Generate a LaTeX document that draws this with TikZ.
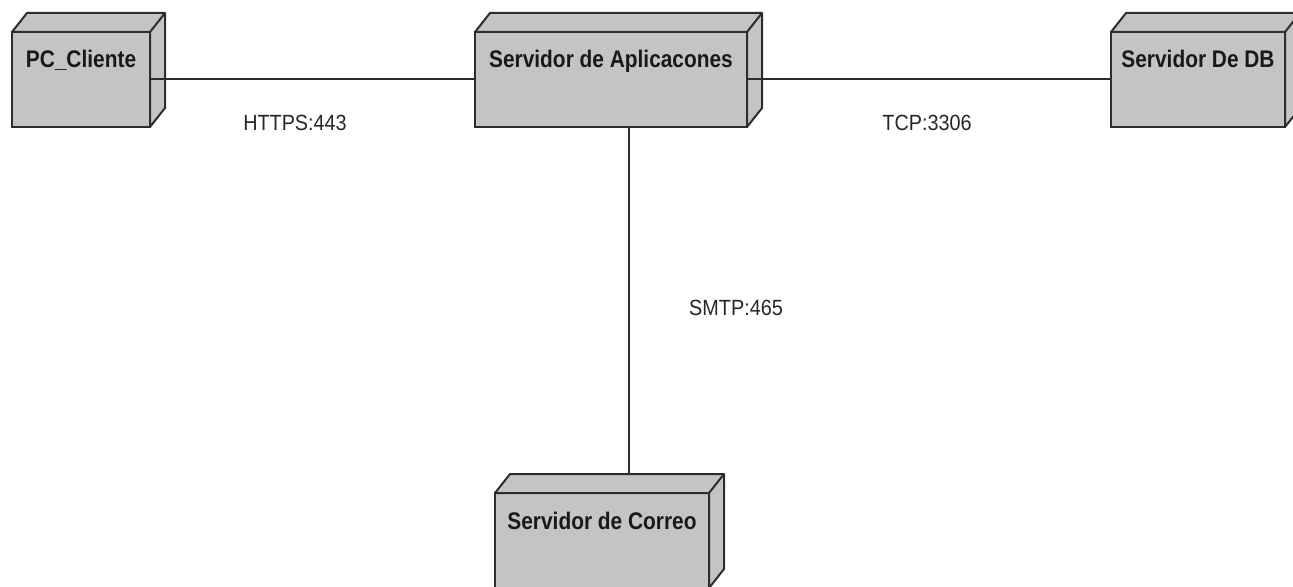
\documentclass[tikz,border=0pt]{standalone}
\usepackage{fontspec}
\setmainfont{Liberation Sans}[FakeStretch=0.9]
\newfontfamily\boxfont{Liberation Sans}[FakeStretch=0.87]
\usepackage{xcolor}

\definecolor{boxgray}{RGB}{196,196,196}
\definecolor{linegray}{RGB}{45,45,45}

\tikzset{
    nodebox/.style={draw=linegray, fill=boxgray, line width=1pt, anchor=north west,
        outer sep=0pt, inner xsep=0pt, inner ysep=0pt, minimum width=#1,
        text height=18pt, text depth=29.5pt, text=black!90,
        font=\boxfont\bfseries\fontsize{12pt}{14pt}\selectfont},
    nodeside/.style={draw=linegray, fill=boxgray, line width=1pt, line join=round},
    link/.style={draw=linegray, line width=1pt},
    linklabel/.style={text=black!85, font=\fontsize{11pt}{13pt}\selectfont}
}

\begin{document}
\begin{tikzpicture}[x=0.5pt, y=-0.5pt]
    \useasboundingbox (0,0) rectangle (1293,587);

    \node[nodebox=69pt] (pc) at (12,32) {PC\_Cliente};
    \node[nodebox=136pt] (app) at (475,32) {Servidor de Aplicacones};
    \node[nodebox=87pt] (db) at (1111,32) {Servidor De DB};
    \node[nodebox=107pt] (mail) at (495,493) {Servidor de Correo};

    \foreach \n in {pc, app, db, mail} {
        \draw[nodeside] (\n.north west) -- ([shift={(7.5pt,9.5pt)}]\n.north west)
            -- ([shift={(7.5pt,9.5pt)}]\n.north east) -- ([shift={(7.5pt,9.5pt)}]\n.south east)
            -- (\n.south east) -- (\n.north east) -- cycle
            (\n.north east) -- ([shift={(7.5pt,9.5pt)}]\n.north east);
    }

    \coordinate (mailtop) at (629,475);

    \draw[link] (pc) to (app)
        (app) to (db)
        (app.south -| mailtop) to (mailtop);

    \node[linklabel] (https) at (295,123) {HTTPS:443};
    \node[linklabel] (tcp) at (927,123) {TCP:3306};
    \node[linklabel] (smtp) at (736,308) {SMTP:465};
\end{tikzpicture}
\end{document}
